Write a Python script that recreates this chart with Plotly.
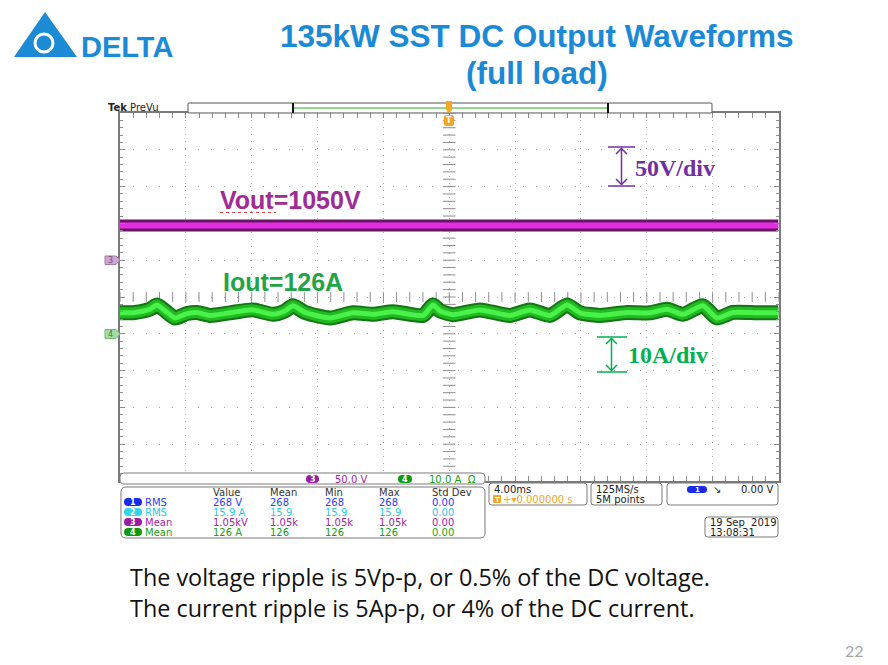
import numpy as np
import plotly.graph_objects as go

W, H = 888, 665

# ---- waveform data ----
# Vout (ch3) is flat, Iout (ch4) has the 120 Hz-ish ripple
vout_t_ms = [-20, -15, -10, -5, 0, 5, 10, 15, 20]
vout_v = [1047, 1047, 1047, 1047.5, 1047.5, 1047, 1047, 1047, 1047]

iout_t_ms = [-20.0, -19.09, -18.18, -17.76, -17.27, -16.66, -15.93, -15.32, -14.54,
             -13.32, -11.92, -10.71, -9.98, -9.49, -8.76, -7.24, -5.84, -4.63,
             -3.41, -1.59, -0.99, -0.56, 0.23, 1.87, 3.69, 4.90, 6.12, 7.15,
             7.94, 9.16, 10.80, 12.19, 13.23, 14.20, 15.41, 16.26, 17.23, 18.69, 20.0]
iout_a = [125.7, 125.8, 126.7, 127.8, 126.3, 124.3, 125.5, 125.8, 125.0,
          125.7, 126.5, 125.3, 126.2, 127.6, 125.8, 124.3, 125.7, 125.3,
          126.0, 125.0, 127.8, 126.2, 125.2, 126.5, 125.0, 126.5, 125.0, 127.8,
          125.7, 125.0, 125.8, 125.7, 126.7, 125.3, 127.6, 124.3, 125.8, 125.7, 125.7]

# scope settings
time_per_div = 4.0          # ms
volt_per_div, volt_offset, volt_pos = 50, 1000, 1
amp_per_div, amp_offset, amp_pos = 10, 120, -1

# measurement table
meas_ch = ["1", "2", "3", "4"]
meas_name = ["RMS", "RMS", "Mean", "Mean"]
meas_value = ["268 V", "15.9 A", "1.05kV", "126 A"]
meas_mean = ["268", "15.9", "1.05k", "126"]
meas_min = ["268", "15.9", "1.05k", "126"]
meas_max = ["268", "15.9", "1.05k", "126"]
meas_std = ["0.00", "0.00", "0.00", "0.00"]
meas_cols = ["Value", "Mean", "Min", "Max", "Std Dev"]

ch_text = ["#2b3cf2", "#2cc8e0", "#a424a8", "#17a017"]
ch_pill = ["#1a2ae6", "#2fd6e8", "#9a1aa0", "#0e9a0e"]

v_range = [volt_offset - (5 + volt_pos) * volt_per_div, volt_offset + (5 - volt_pos) * volt_per_div]
a_range = [amp_offset - (5 + amp_pos) * amp_per_div, amp_offset + (5 - amp_pos) * amp_per_div]
v_center = volt_offset - volt_pos * volt_per_div


def X(x):
    return x / W


def Y(y):
    return 1 - y / H


shapes = []
annotations = []


def label(x, y, text, size=10, color="#222", xanchor="left", family="DejaVu Sans", yanchor="middle"):
    annotations.append(dict(x=X(x), y=Y(y), xref="paper", yref="paper", text=text, showarrow=False,
                            xanchor=xanchor, yanchor=yanchor,
                            font=dict(size=size, color=color, family=family)))


def path(pts, close=True, **kw):
    d = "M " + " L ".join(f"{X(a):.5f},{Y(b):.5f}" for a, b in pts)
    if close:
        d += " Z"
    shapes.append(dict(type="path", path=d, xref="paper", yref="paper", **kw))


def rrect(x0, y0, x1, y1, r, **kw):
    rx, ry = r / W, r / H
    a, b, c, d = X(x0), Y(y0), X(x1), Y(y1)
    p = (f"M {a+rx:.5f},{b:.5f} L {c-rx:.5f},{b:.5f} Q {c:.5f},{b:.5f} {c:.5f},{b-ry:.5f} "
         f"L {c:.5f},{d+ry:.5f} Q {c:.5f},{d:.5f} {c-rx:.5f},{d:.5f} L {a+rx:.5f},{d:.5f} "
         f"Q {a:.5f},{d:.5f} {a:.5f},{d+ry:.5f} L {a:.5f},{b-ry:.5f} Q {a:.5f},{b:.5f} {a+rx:.5f},{b:.5f} Z")
    shapes.append(dict(type="path", path=p, xref="paper", yref="paper", **kw))


def hline(x0, x1, y, color, width=1, dash="solid"):
    shapes.append(dict(type="line", xref="paper", yref="paper", x0=X(x0), x1=X(x1), y0=Y(y), y1=Y(y),
                       line=dict(color=color, width=width, dash=dash)))


def vline(x, y0, y1, color, width=1):
    shapes.append(dict(type="line", xref="paper", yref="paper", x0=X(x), x1=X(x), y0=Y(y0), y1=Y(y1),
                       line=dict(color=color, width=width)))


def pill(x0, y0, x1, y1, fill, text, tsize=8):
    rrect(x0, y0, x1, y1, (y1 - y0) / 2, fillcolor=fill, line=dict(width=0))
    label((x0 + x1) / 2, (y0 + y1) / 2 + 0.5, f"<b>{text}</b>", size=tsize, color="white", xanchor="center")


fig = go.Figure()

# crosshair ticks through the centre of the graticule
xt = np.arange(-20, 20.01, time_per_div / 5)
fig.add_trace(go.Scatter(x=xt, y=[v_center] * len(xt), mode="markers", hoverinfo="skip",
                         marker=dict(symbol="line-ns", size=7, line=dict(width=1, color="#8c8c8c"))))
yt = np.arange(v_range[0], v_range[1] + 0.1, volt_per_div / 5)
fig.add_trace(go.Scatter(x=[0] * len(yt), y=yt, mode="markers", hoverinfo="skip",
                         marker=dict(symbol="line-ew", size=9, line=dict(width=1, color="#8c8c8c"))))

# Vout trace
for w, c in [(12, "#6a1464"), (6, "#e22ee2")]:
    fig.add_trace(go.Scatter(x=vout_t_ms, y=vout_v, mode="lines", hoverinfo="skip",
                             line=dict(width=w, color=c)))
# Iout trace
for w, c in [(15, "#137613"), (11, "#22b822"), (5, "#48f248")]:
    fig.add_trace(go.Scatter(x=iout_t_ms, y=iout_a, mode="lines", yaxis="y2", hoverinfo="skip",
                             line=dict(width=w, color=c, shape="spline", smoothing=0.6)))

# ---- slide header ----
path([(45, 12), (77, 57), (14, 57)], fillcolor="#1b8bd6", line=dict(width=0))
shapes.append(dict(type="circle", xref="paper", yref="paper", x0=X(35), x1=X(53), y0=Y(52), y1=Y(34),
                   line=dict(color="white", width=3)))
label(79, 47, "<b>DELTA</b>", size=29, color="#1b8bd6", family="Liberation Sans")
label(536, 36, "<b>135kW SST DC Output Waveforms</b>", size=31.5, color="#1b8ad6",
      xanchor="center", family="Liberation Sans")
label(537, 73, "<b>(full load)</b>", size=31.5, color="#1b8ad6", xanchor="center", family="Liberation Sans")

# ---- scope top bar ----
label(106, 107, "<b>Tek</b> PreVu", size=10, color="#222", family="DejaVu Sans")
rrect(188, 103, 712, 113, 1, fillcolor="white", line=dict(color="#555", width=1))
hline(293, 608, 108, "#92d892", width=2)
vline(293, 103, 113, "#111", width=2)
vline(608, 103, 113, "#111", width=2)
path([(446, 101), (452, 101), (452, 110), (449, 113), (446, 110)], fillcolor="#f5a623", line=dict(width=0))
rrect(444, 115, 454, 126, 2, fillcolor="#f5a623", line=dict(width=0))
label(449, 120.5, "<b>T</b>", size=8, color="white", xanchor="center")

# channel offset markers
path([(105, 256), (116, 256), (120, 260), (116, 264.5), (105, 264.5)], fillcolor="#cfa6cf",
     line=dict(color="#a87aa8", width=1))
label(110, 260.5, "3", size=8, color="#7b4a7b", xanchor="center")
path([(105, 329.5), (116, 329.5), (120, 334), (116, 338.5), (105, 338.5)], fillcolor="#a4dca4",
     line=dict(color="#76b676", width=1))
label(110, 334.5, "4", size=8, color="#3a863a", xanchor="center")

# ---- annotations on the graticule ----
label(290, 200, "<b>Vout=1050V</b>", size=25, color="#a02b94", xanchor="center", family="Liberation Sans")
hline(220, 276, 212.5, "#e04040", width=1, dash="dot")
label(283, 282, "<b>Iout=126A</b>", size=25, color="#1fa547", xanchor="center", family="Liberation Sans")

# 50V/div scale marker
pc = "#7030a0"
hline(608, 635, 147, pc, 1.5)
hline(608, 635, 186, pc, 1.5)
vline(621.5, 148, 185, pc, 1.5)
path([(616, 154), (621.5, 148.5), (627, 154)], close=False, line=dict(color=pc, width=1.5))
path([(616, 179), (621.5, 184.5), (627, 179)], close=False, line=dict(color=pc, width=1.5))
label(633, 168, "<b>50V/div</b>", size=24, color=pc, family="Liberation Serif")

# 10A/div scale marker
gc = "#00b050"
hline(597, 627, 337, gc, 1.5)
hline(597, 627, 372, gc, 1.5)
vline(611.5, 338, 371, gc, 1.5)
path([(606, 344), (611.5, 338.5), (617, 344)], close=False, line=dict(color=gc, width=1.5))
path([(606, 365), (611.5, 370.5), (617, 365)], close=False, line=dict(color=gc, width=1.5))
label(626, 355, "<b>10A/div</b>", size=24, color=gc, family="Liberation Serif")

# ---- bottom readout boxes ----
box = dict(fillcolor="white", line=dict(color="#7a7a7a", width=1))
rrect(120, 473, 485, 484, 4, **box)
pill(306, 475, 319, 483, ch_pill[2], "3")
label(333, 479, "50.0 V", size=10, color=ch_text[2])
pill(398, 475, 412, 483, ch_pill[3], "4")
label(427, 479, "10.0 A  Ω", size=10, color=ch_text[3])

rrect(121, 487, 485, 538, 5, **box)
col_x = [211, 268, 323, 377, 430]
for cx, name in zip(col_x, meas_cols):
    label(cx, 492, name, size=10, color="#333")
for i in range(len(meas_ch)):
    ry = 502 + i * 10
    pill(124, ry - 4, 142, ry + 4, ch_pill[i], meas_ch[i])
    label(143, ry, meas_name[i], size=10, color=ch_text[i])
    for cx, val in zip(col_x, [meas_value[i], meas_mean[i], meas_min[i], meas_max[i], meas_std[i]]):
        label(cx, ry, val, size=10, color=ch_text[i])

rrect(489, 483, 587, 505, 3, **box)
label(492, 489, "4.00ms", size=10, color="#222")
rrect(493, 495, 501, 503, 1, fillcolor="#f5a623", line=dict(width=0))
label(497, 499.5, "<b>T</b>", size=7, color="white", xanchor="center")
label(501, 499, "+▾0.000000 s", size=10, color="#f5a623")

rrect(591, 483, 662, 505, 3, **box)
label(594, 489, "125MS/s", size=10, color="#222")
label(594, 499, "5M points", size=10, color="#222")

rrect(667, 483, 778, 505, 3, **box)
pill(687, 486, 707, 493, ch_pill[0], "1", tsize=7)
label(717, 489, "↘", size=10, color="#222", xanchor="center")
label(775, 489, "0.00 V", size=10, color="#222", xanchor="right")

rrect(705, 517, 778, 537, 3, **box)
label(708, 522, "19 Sep  2019", size=10, color="#222")
label(708, 532, "13:08:31", size=10, color="#222")

# ---- slide footer text ----
label(128, 577, "The voltage ripple is 5Vp-p, or 0.5% of the DC voltage.", size=23.4, color="#111",
      family="Open Sans")
label(128, 608, "The current ripple is 5Ap-p, or 4% of the DC current.", size=23.4, color="#111",
      family="Open Sans")
label(866, 650, "22", size=16, color="#a6a6a6", xanchor="right", family="Lato")

grid = "#a6a6a6"
fig.update_layout(
    width=W, height=H,
    margin=dict(l=0, r=0, t=0, b=0),
    paper_bgcolor="white", plot_bgcolor="white",
    showlegend=False,
    xaxis=dict(domain=[X(120), X(778.5)], range=[-20, 20], dtick=time_per_div, showgrid=True,
               gridcolor=grid, griddash="1px,6px", gridwidth=1, zeroline=False,
               showline=True, linecolor="#7a7a7a", linewidth=1.5, mirror="allticks",
               ticks="inside", ticklen=5, tickcolor="#8c8c8c", showticklabels=False,
               minor=dict(dtick=time_per_div / 5, ticks="inside", ticklen=3, tickcolor="#8c8c8c",
                          showgrid=False)),
    yaxis=dict(domain=[Y(481), Y(113)], range=v_range, dtick=volt_per_div, showgrid=True,
               gridcolor=grid, griddash="1px,12px", gridwidth=1, zeroline=False,
               showline=True, linecolor="#7a7a7a", linewidth=1.5, mirror="allticks",
               ticks="inside", ticklen=5, tickcolor="#8c8c8c", showticklabels=False,
               minor=dict(dtick=volt_per_div / 5, ticks="inside", ticklen=3, tickcolor="#8c8c8c",
                          showgrid=False)),
    yaxis2=dict(overlaying="y", range=a_range, visible=False),
    shapes=shapes,
    annotations=annotations,
)

# drop the browser's default body margin so the slide sits at the window origin
fig.write_html("out.html", config={"displayModeBar": False},
               post_script="document.body.style.margin='0';")
